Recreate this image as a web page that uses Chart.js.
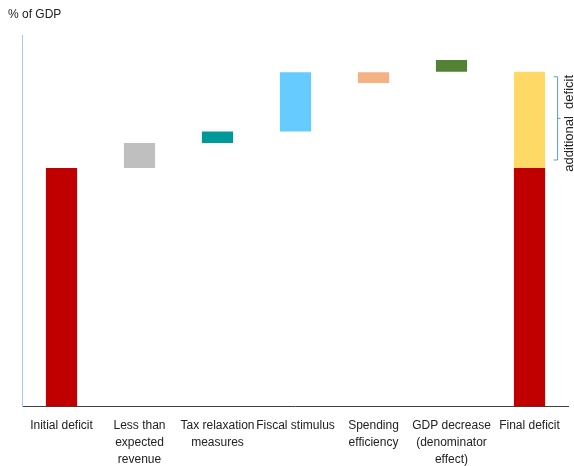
<!DOCTYPE html>
<html>
<head>
<meta charset="utf-8">
<script src="https://cdn.jsdelivr.net/npm/chart.js@4/dist/chart.umd.min.js"></script>
<style>
html,body{margin:0;padding:0;background:#fff;}
#wrap{width:574px;height:466px;}
</style>
</head>
<body>
<div id="wrap"><canvas id="c" width="574" height="466"></canvas></div>
<script>
// ---- data ----
const categories = [
  'Initial deficit',
  ['Less than', 'expected', 'revenue'],
  ['Tax relaxation', 'measures'],
  'Fiscal stimulus',
  ['Spending', 'efficiency'],
  ['GDP decrease', '(denominator', 'effect)'],
  'Final deficit'
];
const barStart = [0, 6.42, 7.09, 7.40, 8.71, 9.01, 0];
const barEnd   = [6.42, 7.09, 7.40, 9.00, 9.00, 9.33, 6.42];
const additionalStart = 6.42;
const additionalEnd = 9.01;
const barColors = ['#C00000', '#BFBFBF', '#009999', '#66CCFF', '#F4B183', '#548235', '#C00000'];
const additionalColor = '#FFD966';
const yLabel = '% of GDP';
const bracketLabel = 'additional  deficit';

const mainData = barStart.map((s, i) => [s, barEnd[i]]);
const addData = categories.map((c, i) => i === categories.length - 1 ? [additionalStart, additionalEnd] : null);

const FONT = 'Liberation Sans, Arial, sans-serif';

const bracketPlugin = {
  id: 'bracket',
  afterDatasetsDraw(chart) {
    const meta = chart.getDatasetMeta(1);
    const el = meta.data[categories.length - 1];
    if (!el) return;
    const ctx = chart.ctx;
    const y = chart.scales.y;
    const top = y.getPixelForValue(additionalEnd) + 5;
    const bot = y.getPixelForValue(additionalStart) - 8;
    const mid = (top + bot) / 2;
    const xr = el.x + el.width / 2;
    const vx = xr + 12.5;
    ctx.save();
    ctx.strokeStyle = '#5B9BD5';
    ctx.lineWidth = 1;
    ctx.beginPath();
    ctx.moveTo(vx - 4, top);
    ctx.lineTo(vx, top);
    ctx.lineTo(vx, bot);
    ctx.lineTo(vx - 4, bot);
    ctx.moveTo(vx, mid);
    ctx.lineTo(vx + 3, mid);
    ctx.stroke();
    ctx.translate(vx + 15.5, mid + 5);
    ctx.rotate(-Math.PI / 2);
    ctx.fillStyle = '#222';
    ctx.font = '13px ' + FONT;
    ctx.textAlign = 'center';
    ctx.textBaseline = 'alphabetic';
    ctx.fillText(bracketLabel, 0, 0);
    ctx.restore();
  }
};

new Chart(document.getElementById('c'), {
  type: 'bar',
  data: {
    labels: categories,
    datasets: [
      { data: mainData, backgroundColor: barColors, borderWidth: 0, grouped: false,
        barPercentage: 0.4, categoryPercentage: 1 },
      { data: addData, backgroundColor: additionalColor, borderWidth: 0, grouped: false,
        barPercentage: 0.4, categoryPercentage: 1 }
    ]
  },
  options: {
    responsive: false,
    animation: false,
    devicePixelRatio: 1,
    layout: { padding: { left: 8, right: 5.5, top: 0, bottom: 0 } },
    plugins: {
      legend: { display: false },
      tooltip: { enabled: false },
      title: {
        display: true, text: yLabel, align: 'start', color: '#222',
        font: { family: FONT, size: 12, weight: 'normal', lineHeight: 1.2 },
        padding: { top: 7, bottom: 13.6 }
      }
    },
    scales: {
      x: {
        grid: { display: false, drawTicks: false },
        border: { display: true, color: '#404040', width: 1 },
        ticks: {
          color: '#222', autoSkip: false, maxRotation: 0, minRotation: 0, padding: 10,
          font: { family: FONT, size: 12, lineHeight: 1.45 }
        },
        afterFit(scale) { scale.height = 59.5; }
      },
      y: {
        min: 0, max: 10,
        grid: { display: false, drawTicks: false },
        border: { display: true, color: '#A6C8EC', width: 1 },
        ticks: { display: false },
        afterFit(scale) { scale.width = 14.5; }
      }
    }
  },
  plugins: [bracketPlugin]
});
</script>
</body>
</html>
